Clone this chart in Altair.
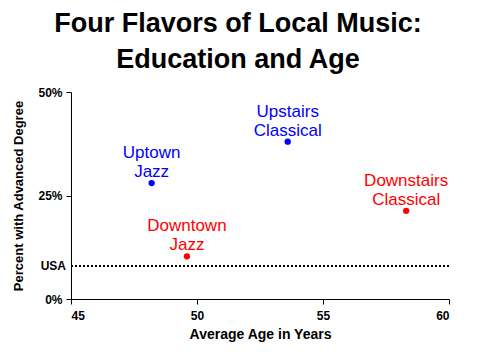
import altair as alt
import pandas as pd

names = ["Uptown\nJazz", "Upstairs\nClassical", "Downtown\nJazz", "Downstairs\nClassical"]
ages = [48.2, 53.6, 49.6, 58.3]
pct_adv = [28.0, 38.0, 10.3, 21.3]
groups = ["Up", "Up", "Down", "Down"]
usa_pct = [8.0]
usa_label = ["USA"]
x_ticks = [45, 50, 55, 60]
y_ticks = [0, 25, 50]

df = pd.DataFrame({"name": names, "age": ages, "pct": pct_adv, "grp": groups})
usa = pd.DataFrame({"pct": usa_pct, "label": usa_label})

FONT = "Liberation Sans"
color = alt.Color("grp:N", scale=alt.Scale(domain=["Up", "Down"], range=["#0000FF", "#FF0000"]), legend=None)

x = alt.X("age:Q", scale=alt.Scale(domain=[45, 60], nice=False),
          axis=alt.Axis(values=x_ticks, title="Average Age in Years", grid=False, titleFontSize=14,
                        tickSize=5, labelPadding=6, titlePadding=6))
y = alt.Y("pct:Q", scale=alt.Scale(domain=[0, 50], nice=False),
          axis=alt.Axis(values=y_ticks, labelExpr="datum.value + '%'", title="Percent with Advanced Degree",
                        grid=False, tickSize=5, labelPadding=4, titlePadding=12))

points = alt.Chart(df).mark_circle(size=40, opacity=1).encode(x=x, y=y, color=color)
labels = alt.Chart(df).mark_text(fontSize=17, font=FONT, baseline="bottom", dy=-21, lineBreak="\n",
                                  lineHeight=19).encode(x="age:Q", y="pct:Q", text="name:N", color=color)
rule = alt.Chart(usa).mark_rule(color="black", strokeDash=[2, 2], strokeWidth=2).encode(y="pct:Q")
usa_text = alt.Chart(usa).mark_text(font=FONT, fontSize=12, fontWeight="bold", align="right",
                                    baseline="middle").encode(x=alt.value(-5), y="pct:Q", text="label:N")

chart = alt.layer(rule, points, labels, usa_text).properties(
    width=378, height=207,
    title=alt.TitleParams(["Four Flavors of Local Music:", "Education and Age"], font=FONT, fontSize=27,
                          fontWeight="bold", lineHeight=36, anchor="middle", dx=-22, offset=12, color="black"),
    autosize=alt.AutoSizeParams(type="none"),
    padding={"left": 63, "top": 84, "right": 23, "bottom": 49},
).configure_view(stroke=None).configure_axis(
    labelFont=FONT, labelFontSize=12, labelFontWeight="bold", labelColor="black",
    titleFont=FONT, titleFontSize=13, titleFontWeight="bold", titleColor="black",
    domainColor="black", tickColor="black", domainWidth=1, tickWidth=1,
)

chart.save("out.html", embed_options={"renderer": "svg", "actions": False})
